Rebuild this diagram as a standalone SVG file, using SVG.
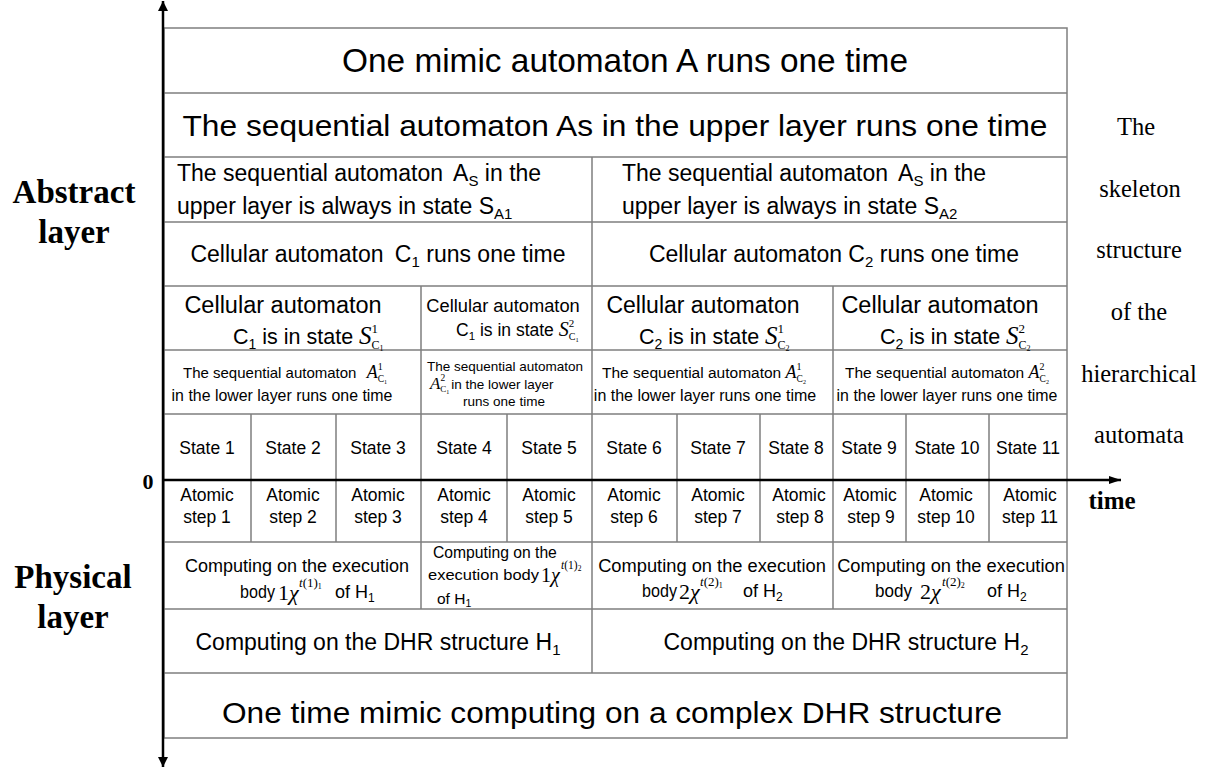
<svg xmlns="http://www.w3.org/2000/svg" width="1216" height="773" viewBox="0 0 1216 773">
  <defs>
    <style>
      .grid { stroke: #7f7f7f; stroke-width: 1.5; fill: none; }
      .axis { stroke: #000; stroke-width: 2.5; fill: none; }
      .t { font-family: "Liberation Sans", Arial, sans-serif; fill: #000; }
      .c { text-anchor: middle; }
      .lbl { font-family: "Liberation Serif", "Times New Roman", serif; font-weight: bold; fill: #000; text-anchor: middle; }
      .side { font-family: "Liberation Serif", "Times New Roman", serif; fill: #000; text-anchor: middle; font-size: 24.5px; }
      .mi { font-family: "Liberation Serif", "Times New Roman", serif; font-style: italic; }
      .mr { font-family: "Liberation Serif", "Times New Roman", serif; font-style: normal; }
    </style>
    <marker id="arrowV" viewBox="0 0 10 10" refX="10" refY="5" markerWidth="10" markerHeight="10" markerUnits="userSpaceOnUse" orient="auto">
      <path d="M0,0 L10,5 L0,10 Z" fill="#000"/>
    </marker>
    <marker id="arrowH" viewBox="0 0 12 8" refX="12" refY="4" markerWidth="12" markerHeight="8" markerUnits="userSpaceOnUse" orient="auto">
      <path d="M0,0 L12,4 L0,8 Z" fill="#000"/>
    </marker>
  </defs>

  <rect x="0" y="0" width="1216" height="773" fill="#fff"/>

  <!-- table grid -->
  <g id="grid">
    <rect class="grid" x="164" y="28" width="903" height="710"/>
    <path class="grid" d="M164,93H1067 M164,157H1067 M164,222H1067 M164,286H1067 M164,350H1067 M164,414H1067 M164,542H1067 M164,609H1067 M164,673H1067"/>
    <path class="grid" d="M592,157V673 M421,286V609 M833,286V609"/>
    <path class="grid" d="M251,414V542 M336,414V542 M507,414V542 M677,414V542 M760,414V542 M906,414V542 M989,414V542"/>
  </g>

  <!-- axes -->
  <g id="connectors">
    <line class="axis" x1="163" y1="480" x2="163" y2="1" marker-end="url(#arrowV)"/>
    <line class="axis" x1="163" y1="480" x2="163" y2="767" marker-end="url(#arrowV)"/>
    <line class="axis" x1="163" y1="480" x2="1121" y2="480" marker-end="url(#arrowH)"/>
  </g>

  <!-- axis labels -->
  <g id="axis-labels">
    <text class="lbl" x="148" y="489" font-size="22">0</text>
    <text class="lbl" x="1112" y="509" font-size="25">time</text>
    <text class="lbl" x="74" y="203" font-size="33">Abstract</text>
    <text class="lbl" x="74" y="243" font-size="33">layer</text>
    <text class="lbl" x="73" y="588" font-size="33">Physical</text>
    <text class="lbl" x="73" y="628" font-size="33">layer</text>
  </g>

  <g id="side-note">
    <text class="side" x="1136" y="135">The</text>
    <text class="side" x="1140" y="197">skeleton</text>
    <text class="side" x="1139" y="258">structure</text>
    <text class="side" x="1139" y="320">of the</text>
    <text class="side" x="1139" y="382">hierarchical</text>
    <text class="side" x="1139" y="443">automata</text>
  </g>

  <!-- row 1 -->
  <g id="mimic-automaton">
    <text class="t c" x="625" y="72" font-size="33" textLength="566" lengthAdjust="spacingAndGlyphs">One mimic automaton A runs one time</text>
  </g>

  <!-- row 2 -->
  <g id="upper-sequential">
    <text class="t c" x="615" y="136" font-size="30" textLength="865" lengthAdjust="spacingAndGlyphs">The sequential automaton As in the upper layer runs one time</text>
  </g>

  <!-- row 3 -->
  <g id="state-sa1">
    <text class="t" x="177" y="181" font-size="23">The sequential automaton <tspan dx="5">A</tspan><tspan font-size="15" dy="5">S</tspan><tspan dy="-5"> in the</tspan></text>
    <text class="t" x="177" y="214" font-size="23">upper layer is always in state S<tspan font-size="15" dy="5">A1</tspan></text>
  </g>
  <g id="state-sa2">
    <text class="t" x="622" y="181" font-size="23">The sequential automaton <tspan dx="5">A</tspan><tspan font-size="15" dy="5">S</tspan><tspan dy="-5"> in the</tspan></text>
    <text class="t" x="622" y="214" font-size="23">upper layer is always in state S<tspan font-size="15" dy="5">A2</tspan></text>
  </g>

  <!-- row 4 -->
  <g id="cellular-c1">
    <text class="t c" x="378" y="262" font-size="23">Cellular automaton <tspan dx="5">C</tspan><tspan font-size="15" dy="5">1</tspan><tspan dy="-5"> runs one time</tspan></text>
  </g>
  <g id="cellular-c2">
    <text class="t c" x="834" y="262" font-size="23">Cellular automaton C<tspan font-size="15" dy="5">2</tspan><tspan dy="-5"> runs one time</tspan></text>
  </g>

  <!-- row 5 -->
  <g id="c1-state-1">
    <text class="t c" x="283" y="313" font-size="23.5">Cellular automaton</text>
    <text class="t" x="233" y="344" font-size="21.5">C<tspan font-size="14" dy="5">1</tspan><tspan dy="-5"> is in state </tspan><tspan class="mi" font-size="25">S</tspan><tspan class="mr" font-size="13" dy="-11">1</tspan><tspan class="mr" font-size="12" dx="-6.5" dy="16">C</tspan><tspan class="mr" font-size="8" dy="2">1</tspan></text>
  </g>
  <g id="c1-state-2">
    <text class="t c" x="503" y="312" font-size="18.3">Cellular automaton</text>
    <text class="t" x="456" y="336" font-size="17.5">C<tspan font-size="11.5" dy="4">1</tspan><tspan dy="-4"> is in state </tspan><tspan class="mi" font-size="20">S</tspan><tspan class="mr" font-size="11" dy="-9">2</tspan><tspan class="mr" font-size="10" dx="-5.5" dy="13">C</tspan><tspan class="mr" font-size="6.5" dy="2">1</tspan></text>
  </g>
  <g id="c2-state-1">
    <text class="t c" x="703" y="313" font-size="23">Cellular automaton</text>
    <text class="t" x="639" y="344" font-size="21.5">C<tspan font-size="14" dy="5">2</tspan><tspan dy="-5"> is in state </tspan><tspan class="mi" font-size="25">S</tspan><tspan class="mr" font-size="13" dy="-11">1</tspan><tspan class="mr" font-size="12" dx="-6.5" dy="16">C</tspan><tspan class="mr" font-size="8" dy="2">2</tspan></text>
  </g>
  <g id="c2-state-2">
    <text class="t c" x="940" y="313" font-size="23.5">Cellular automaton</text>
    <text class="t" x="880" y="344" font-size="21.5">C<tspan font-size="14" dy="5">2</tspan><tspan dy="-5"> is in state </tspan><tspan class="mi" font-size="25">S</tspan><tspan class="mr" font-size="13" dy="-11">2</tspan><tspan class="mr" font-size="12" dx="-6.5" dy="16">C</tspan><tspan class="mr" font-size="8" dy="2">2</tspan></text>
  </g>

  <!-- row 6 -->
  <g id="lower-seq-1">
    <text class="t" x="183" y="378" font-size="15">The sequential automaton <tspan class="mi" font-size="18" dx="6">A</tspan><tspan class="mr" font-size="10" dy="-8">1</tspan><tspan class="mr" font-size="9.5" dx="-5" dy="12">C</tspan><tspan class="mr" font-size="6" dy="2">1</tspan></text>
    <text class="t c" x="282" y="401" font-size="15.9">in the lower layer runs one time</text>
  </g>
  <g id="lower-seq-2">
    <text class="t c" x="505" y="371" font-size="13.5">The sequential automaton</text>
    <text class="t" x="430" y="389" font-size="13.5"><tspan class="mi" font-size="17">A</tspan><tspan class="mr" font-size="9.5" dy="-8">2</tspan><tspan class="mr" font-size="9" dx="-4.8" dy="11">C</tspan><tspan class="mr" font-size="6" dy="2">1</tspan><tspan dy="-5" dx="2">in the lower layer</tspan></text>
    <text class="t c" x="504" y="406" font-size="13.5">runs one time</text>
  </g>
  <g id="lower-seq-3">
    <text class="t" x="602" y="378" font-size="15.5">The sequential automaton <tspan class="mi" font-size="18" dx="0">A</tspan><tspan class="mr" font-size="10" dy="-8">1</tspan><tspan class="mr" font-size="9.5" dx="-5" dy="12">C</tspan><tspan class="mr" font-size="6" dy="2">2</tspan></text>
    <text class="t c" x="705" y="401" font-size="16">in the lower layer runs one time</text>
  </g>
  <g id="lower-seq-4">
    <text class="t" x="845" y="378" font-size="15.5">The sequential automaton <tspan class="mi" font-size="18" dx="0">A</tspan><tspan class="mr" font-size="10" dy="-8">2</tspan><tspan class="mr" font-size="9.5" dx="-5" dy="12">C</tspan><tspan class="mr" font-size="6" dy="2">2</tspan></text>
    <text class="t c" x="947" y="401" font-size="15.9">in the lower layer runs one time</text>
  </g>

  <!-- row 7: states -->
  <g id="states" class="t c" font-size="17.5">
    <text x="207" y="454">State 1</text>
    <text x="293" y="454">State 2</text>
    <text x="378" y="454">State 3</text>
    <text x="464" y="454">State 4</text>
    <text x="549" y="454">State 5</text>
    <text x="634" y="454">State 6</text>
    <text x="718" y="454">State 7</text>
    <text x="796" y="454">State 8</text>
    <text x="869" y="454">State 9</text>
    <text x="947" y="454">State 10</text>
    <text x="1028" y="454">State 11</text>
  </g>

  <!-- row 8: atomic steps -->
  <g id="atomic-steps" class="t c" font-size="17.5">
    <text x="207" y="501">Atomic</text><text x="207" y="523">step 1</text>
    <text x="293" y="501">Atomic</text><text x="293" y="523">step 2</text>
    <text x="378" y="501">Atomic</text><text x="378" y="523">step 3</text>
    <text x="464" y="501">Atomic</text><text x="464" y="523">step 4</text>
    <text x="549" y="501">Atomic</text><text x="549" y="523">step 5</text>
    <text x="634" y="501">Atomic</text><text x="634" y="523">step 6</text>
    <text x="718" y="501">Atomic</text><text x="718" y="523">step 7</text>
    <text x="799" y="501">Atomic</text><text x="800" y="523">step 8</text>
    <text x="870" y="501">Atomic</text><text x="871" y="523">step 9</text>
    <text x="946" y="501">Atomic</text><text x="946" y="523">step 10</text>
    <text x="1030" y="501">Atomic</text><text x="1030" y="523">step 11</text>
  </g>

  <!-- row 9: execution bodies -->
  <g id="body-1-1">
    <text class="t c" x="297" y="572" font-size="18">Computing on the execution</text>
    <text class="t" x="240" y="598" font-size="18" textLength="35" lengthAdjust="spacingAndGlyphs">body</text>
    <text class="mr" x="278" y="600" font-size="22">1<tspan class="mi">χ</tspan></text>
    <text class="mr" x="299" y="587" font-size="13"><tspan class="mi">t</tspan>(1)<tspan font-size="8" dy="2">1</tspan></text>
    <text class="t" x="335" y="598" font-size="18">of H<tspan font-size="12" dy="4">1</tspan></text>
  </g>
  <g id="body-1-2">
    <text class="t" x="433" y="558" font-size="15.7">Computing on the</text>
    <text class="t" x="428" y="580" font-size="15.5" textLength="111" lengthAdjust="spacingAndGlyphs">execution body</text>
    <text class="mr" x="541" y="582" font-size="20">1<tspan class="mi">χ</tspan></text>
    <text class="mr" x="561" y="569" font-size="11.5"><tspan class="mi">t</tspan>(1)<tspan font-size="7.5" dy="2">2</tspan></text>
    <text class="t" x="437" y="604" font-size="15.5">of H<tspan font-size="10.5" dy="3">1</tspan></text>
  </g>
  <g id="body-2-1">
    <text class="t c" x="712" y="572" font-size="18.3">Computing on the execution</text>
    <text class="t" x="642" y="597" font-size="18" textLength="35" lengthAdjust="spacingAndGlyphs">body</text>
    <text class="mr" x="679" y="599" font-size="22">2<tspan class="mi">χ</tspan></text>
    <text class="mr" x="700" y="586" font-size="13"><tspan class="mi">t</tspan>(2)<tspan font-size="8" dy="2">1</tspan></text>
    <text class="t" x="743" y="597" font-size="18">of H<tspan font-size="12" dy="4">2</tspan></text>
  </g>
  <g id="body-2-2">
    <text class="t c" x="951" y="572" font-size="18.3">Computing on the execution</text>
    <text class="t" x="875" y="597" font-size="18" textLength="37" lengthAdjust="spacingAndGlyphs">body</text>
    <text class="mr" x="920" y="599" font-size="22">2<tspan class="mi">χ</tspan></text>
    <text class="mr" x="942" y="586" font-size="13"><tspan class="mi">t</tspan>(2)<tspan font-size="8" dy="2">2</tspan></text>
    <text class="t" x="987" y="597" font-size="18">of H<tspan font-size="12" dy="4">2</tspan></text>
  </g>

  <!-- row 10: DHR structures -->
  <g id="dhr-h1">
    <text class="t c" x="378" y="650" font-size="23">Computing on the DHR structure H<tspan font-size="15" dy="5">1</tspan></text>
  </g>
  <g id="dhr-h2">
    <text class="t c" x="846" y="650" font-size="23">Computing on the DHR structure H<tspan font-size="15" dy="5">2</tspan></text>
  </g>

  <!-- row 11 -->
  <g id="complex-dhr">
    <text class="t c" x="612" y="723" font-size="30" textLength="780" lengthAdjust="spacingAndGlyphs">One time mimic computing on a complex DHR structure</text>
  </g>
</svg>
